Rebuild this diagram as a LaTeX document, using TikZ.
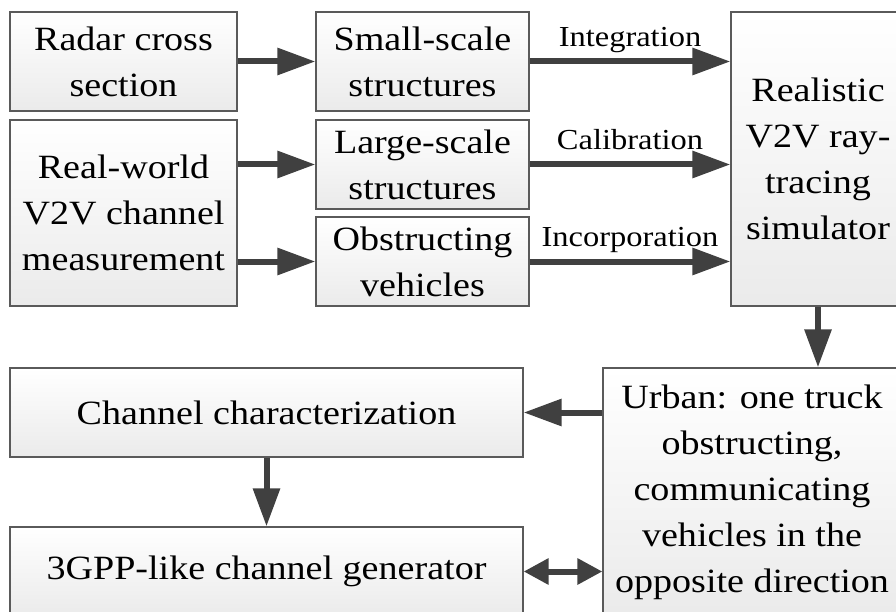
\documentclass[tikz,border=0pt]{standalone}
\usepackage{fontspec}
\setmainfont{Liberation Serif}[FakeStretch=1.12]
\usetikzlibrary{arrows.meta}
\definecolor{arr}{HTML}{404040}
\definecolor{edgec}{HTML}{5A5A5A}
\begin{document}
\begin{tikzpicture}[x=1pt,y=-1pt,
  box/.style={draw=edgec, line width=1.2pt, top color=white, bottom color=black!8,
    align=center, font=\fontsize{34}{46}\selectfont, inner sep=0pt, rectangle},
  conn/.style={draw=arr, line width=6pt, -{Triangle[length=38pt,width=26pt]}},
  dconn/.style={draw=arr, line width=6pt, {Triangle[length=25pt,width=25pt]}-{Triangle[length=25pt,width=25pt]}},
  lab/.style={font=\fontsize{29}{34}\selectfont, anchor=base, yshift=15pt, inner sep=0pt}]
\useasboundingbox (0,0) rectangle (896,612);
\node[box, minimum width=227pt, minimum height=99pt] (radar) at (123.5,61.5) {Radar cross\\section};
\node[box, minimum width=227pt, minimum height=186pt] (real) at (123.5,213) {Real-world\\V2V channel\\measurement};
\node[box, minimum width=213pt, minimum height=99pt] (small) at (422.5,61.5) {Small-scale\\structures};
\node[box, minimum width=213pt, minimum height=89pt] (large) at (422.5,164.5) {Large-scale\\structures};
\node[box, minimum width=213pt, minimum height=89pt] (obstr) at (422.5,261.5) {Obstructing\\vehicles};
\node[box, minimum width=174pt, minimum height=294pt] (sim) at (818,159) {Realistic\\V2V ray-\\tracing\\simulator};
\node[box, minimum width=298pt, minimum height=248pt] (urban) at (752,492) {Urban: one truck\\obstructing,\\communicating\\vehicles in the\\opposite direction};
\node[box, minimum width=513pt, minimum height=89pt] (char) at (266.5,412.5) {Channel characterization};
\node[box, minimum width=513pt, minimum height=89pt] (gpp) at (266.5,571.5) {3GPP-like channel generator};

\draw[conn] (radar.east) -- (small.west);
\draw[conn] (real.east |- large) -- (large.west);
\draw[conn] (real.east |- obstr) -- (obstr.west);
\draw[conn] (small.east) -- (small.east -| sim.west) node[lab, midway] {Integration};
\draw[conn] (large.east) -- (large.east -| sim.west) node[lab, midway] {Calibration};
\draw[conn] (obstr.east) -- (obstr.east -| sim.west) node[lab, midway] {Incorporation};
\draw[conn] (sim.south) -- (sim.south |- urban.north);
\draw[conn] (urban.west |- char.east) -- (char.east);
\draw[conn] (char.south) -- (gpp.north);
\draw[dconn] (gpp.east) -- (gpp.east -| urban.west);
\end{tikzpicture}
\end{document}
